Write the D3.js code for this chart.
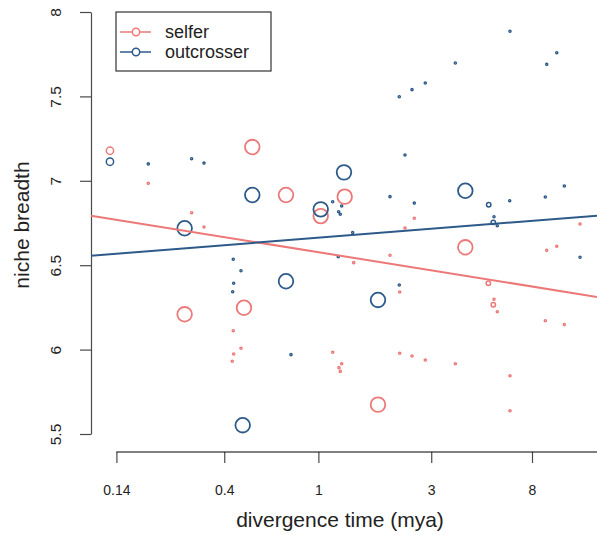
<!DOCTYPE html>
<html lang="en">
<head>
<meta charset="utf-8">
<title>niche breadth vs divergence time</title>
<script src="https://cdn.jsdelivr.net/npm/d3@7"></script>
<style>
  body { margin: 0; background: #fff; }
  svg { font-family: "Liberation Sans", Arial, Helvetica, sans-serif; }
</style>
</head>
<body>
<svg id="chart" width="597" height="535"></svg>
<script>
// ---- data ----
// divergence time (mya), niche breadth, point size (cex-like)
var selferX = [0.1315, 0.191, 0.5255, 0.7295, 0.2912, 0.3284, 1.023, 1.292, 0.272, 0.4846,
               0.4367, 0.4708, 0.4384, 0.4325, 1.1495, 1.2546, 1.222, 1.2377, 1.4104, 2.544,
               2.3235, 2.008, 2.207, 1.7865, 2.207, 2.488, 2.831, 3.793, 4.18, 5.229,
               5.527, 5.489, 5.707, 6.457, 6.457, 9.232, 10.18, 9.108, 10.96, 12.77];
var selferY = [7.178, 6.985, 7.200, 6.916, 6.811, 6.726, 6.791, 6.906, 6.209, 6.248,
               6.112, 6.008, 5.974, 5.931, 5.984, 5.916, 5.893, 5.871, 6.515, 6.778,
               6.720, 6.559, 6.341, 5.674, 5.978, 5.962, 5.938, 5.916, 6.606, 6.393,
               6.298, 6.266, 6.224, 5.845, 5.638, 6.588, 6.612, 6.171, 6.148, 6.744];
var selferSize = [1, 0.3, 2, 2, 0.3, 0.3, 2, 2, 2, 2,
                  0.3, 0.3, 0.3, 0.3, 0.3, 0.3, 0.3, 0.3, 0.3, 0.3,
                  0.3, 0.3, 0.3, 2, 0.3, 0.3, 0.3, 0.3, 2, 0.6,
                  0.3, 0.6, 0.3, 0.3, 0.3, 0.3, 0.3, 0.3, 0.3, 0.3];

var outX = [0.1315, 0.191, 0.2912, 0.3284, 0.5255, 0.272, 1.023, 1.283, 1.1495, 1.2546,
            1.218, 1.2377, 1.396, 1.2136, 0.4367, 0.4708, 0.4384, 0.4342, 0.7295, 0.7659,
            0.4787, 1.7865, 2.198, 2.008, 2.3235, 2.544, 2.198, 2.488, 2.831, 3.793,
            4.18, 5.249, 5.527, 5.489, 5.707, 6.439, 6.457, 9.232, 10.18, 9.108,
            10.96, 12.77];
var outY = [7.113, 7.100, 7.131, 7.105, 6.916, 6.719, 6.831, 7.050, 6.876, 6.851,
            6.817, 6.802, 6.693, 6.550, 6.535, 6.467, 6.393, 6.343, 6.405, 5.970,
            5.552, 6.294, 6.383, 6.906, 7.153, 6.868, 7.498, 7.540, 7.579, 7.698,
            6.941, 6.858, 6.787, 6.754, 6.734, 6.882, 7.886, 7.690, 7.759, 6.904,
            6.969, 6.547];
var outSize = [1, 0.3, 0.3, 0.3, 2, 2, 2, 2, 0.3, 0.3,
               0.3, 0.3, 0.3, 0.3, 0.3, 0.3, 0.3, 0.3, 2, 0.3,
               2, 2, 0.3, 0.3, 0.3, 0.3, 0.3, 0.3, 0.3, 0.3,
               2, 0.6, 0.3, 0.6, 0.3, 0.3, 0.3, 0.3, 0.3, 0.3,
               0.3, 0.3];

// fitted lines: [intercept, slope] on log10(time)
var selferFit = [6.577, -0.2248];
var outFit = [6.6625, 0.1108];

var xTicks = [0.14, 0.4, 1, 3, 8];
var yTicks = [5.5, 6, 6.5, 7, 7.5, 8];
var groups = ["selfer", "outcrosser"];
var colors = ["#ec7878", "#2d5a88"];

// ---- drawing ----
var svg = d3.select("#chart");
var plotLeft = 91, plotRight = 597;

var x = d3.scaleLog().domain([0.14, 8]).range([116.4, 532]);
var y = d3.scaleLinear().domain([5.5, 8]).range([434, 12]);
var r = d3.scaleLinear().domain([0, 2]).range([0, 7.3]);

// y axis
var yAxis = svg.append("g")
  .attr("transform", "translate(" + plotLeft + ",0)")
  .call(d3.axisLeft(y).tickValues(yTicks).tickFormat(d3.format("")).tickSize(11).tickSizeOuter(0));
yAxis.selectAll("text")
  .attr("x", 0).attr("y", 0).attr("dy", "0.35em")
  .attr("transform", "translate(-35,0) rotate(-90)")
  .style("text-anchor", "middle")
  .style("font-size", "15.5px")
  .style("fill", "#222");

// x axis
var xAxis = svg.append("g")
  .attr("transform", "translate(0,452)")
  .call(d3.axisBottom(x).tickValues(xTicks).tickFormat(function(d) { return String(d); })
        .tickSize(11).tickPadding(22));
xAxis.select(".domain").remove();
xAxis.append("line")
  .attr("x1", x(0.14)).attr("x2", plotRight)
  .attr("stroke", "currentColor");
xAxis.selectAll("text").style("font-size", "14px").style("fill", "#222");

svg.selectAll(".domain, .tick line").attr("stroke", "#4a4a4a").attr("stroke-width", 1.2);

// axis titles
svg.append("text")
  .attr("x", 340).attr("y", 527)
  .attr("text-anchor", "middle")
  .style("font-size", "21px").style("fill", "#222")
  .text("divergence time (mya)");
svg.append("text")
  .attr("transform", "translate(29,225) rotate(-90)")
  .attr("text-anchor", "middle")
  .style("font-size", "21px").style("fill", "#222")
  .text("niche breadth");

// points
function drawPoints(xs, ys, ss, col) {
  var pts = xs.map(function(d, i) { return { x: d, y: ys[i], s: ss[i] }; });
  svg.append("g").selectAll("circle").data(pts).enter()
    .append("circle")
    .attr("cx", function(d) { return x(d.x); })
    .attr("cy", function(d) { return y(d.y); })
    .attr("r", function(d) { return d.s < 0.5 ? 1.1 : r(d.s); })
    .attr("fill", "none")
    .attr("stroke", col)
    .attr("stroke-width", function(d) { return d.s < 0.5 ? 1.4 : (d.s < 1.5 ? 1.5 : 1.8); });
}
drawPoints(selferX, selferY, selferSize, colors[0]);
drawPoints(outX, outY, outSize, colors[1]);

// fitted lines across the plot region
var xEnds = [x.invert(plotLeft), x.invert(plotRight)];
function drawFit(fit, col) {
  var line = d3.line()
    .x(function(d) { return x(d); })
    .y(function(d) { return y(fit[0] + fit[1] * Math.log10(d)); });
  svg.append("path")
    .attr("d", line(xEnds))
    .attr("fill", "none")
    .attr("stroke", col)
    .attr("stroke-width", 2);
}
drawFit(selferFit, colors[0]);
drawFit(outFit, colors[1]);

// legend
var legend = svg.append("g");
legend.append("rect")
  .attr("x", 116).attr("y", 12).attr("width", 155).attr("height", 59)
  .attr("fill", "#fff").attr("stroke", "#333").attr("stroke-width", 1.2);
var items = legend.selectAll("g.item").data(groups).enter()
  .append("g").attr("class", "item")
  .attr("transform", function(d, i) { return "translate(0," + (32 + i * 20) + ")"; });
items.append("line")
  .attr("x1", 120).attr("x2", 151)
  .attr("stroke", function(d, i) { return colors[i]; })
  .attr("stroke-width", 1.5);
items.append("circle")
  .attr("cx", 136).attr("r", 3.7)
  .attr("fill", "#fff")
  .attr("stroke", function(d, i) { return colors[i]; })
  .attr("stroke-width", 1.5);
items.append("text")
  .attr("x", 165).attr("dy", "0.35em")
  .style("font-size", "18px").style("fill", "#222")
  .text(function(d) { return d; });
</script>
</body>
</html>
